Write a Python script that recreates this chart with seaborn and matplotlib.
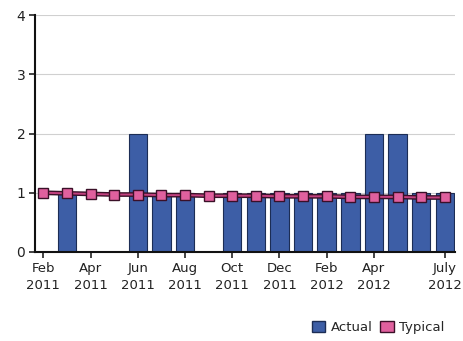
import numpy as np
import pandas as pd
import matplotlib
matplotlib.use("Agg")
import matplotlib.pyplot as plt
import seaborn as sns
from matplotlib.patches import Patch

months = ["Feb 2011", "Mar 2011", "Apr 2011", "May 2011", "Jun 2011", "Jul 2011",
          "Aug 2011", "Sep 2011", "Oct 2011", "Nov 2011", "Dec 2011", "Jan 2012",
          "Feb 2012", "Mar 2012", "Apr 2012", "May 2012", "Jun 2012", "July 2012"]
actual = [0, 1, 0, 0, 2, 1, 1, 0, 1, 1, 1, 1, 1, 1, 2, 2, 1, 1]
typical = [1.00, 0.99, 0.98, 0.97, 0.97, 0.96, 0.96, 0.95, 0.95, 0.95,
           0.94, 0.94, 0.94, 0.93, 0.93, 0.93, 0.92, 0.92]
tick_months = ["Feb 2011", "Apr 2011", "Jun 2011", "Aug 2011", "Oct 2011",
               "Dec 2011", "Feb 2012", "Apr 2012", "July 2012"]

df = pd.DataFrame({"month": months, "actual": actual, "typical": typical})
df["pos"] = np.arange(len(df))

sns.set_theme(style="white")
plt.rcParams["font.family"] = ["DejaVu Sans"]

bar_color = "#3d5ea6"
line_color = "#c2417f"
marker_color = "#e0609e"

fig = plt.figure(figsize=(4.63, 3.41), dpi=100)
ax = fig.add_axes([0.0756, 0.261, 0.908, 0.695])

sns.barplot(data=df, x="month", y="actual", order=months, color=bar_color,
            width=0.78, edgecolor="#1c2d55", linewidth=0.8, saturation=1, ax=ax)

# dark casing under the pink Typical line
sns.lineplot(data=df, x="pos", y="typical", color="#3a1028", linewidth=3.4,
             ax=ax, zorder=3)
sns.lineplot(data=df, x="pos", y="typical", color=line_color, linewidth=1.4,
             marker="s", markersize=6.5, markerfacecolor=marker_color,
             markeredgecolor="#3a1028", markeredgewidth=1.0, ax=ax, zorder=4)

ax.set_xlim(-0.35, len(months) - 0.55)
ax.set_ylim(0, 4)
ax.set_yticks([0, 1, 2, 3, 4])
ax.yaxis.grid(True, color="#d0d0d0", linewidth=0.8)
ax.set_axisbelow(True)

tick_pos = [months.index(m) for m in tick_months]
ax.set_xticks(tick_pos)
ax.set_xticklabels([m.replace(" ", "\n") for m in tick_months], linespacing=1.45)
ax.tick_params(axis="both", labelsize=9.5, colors="#222222", direction="out",
               length=4, width=1.2, bottom=True, left=True, pad=3)
ax.tick_params(axis="y", labelsize=10)
ax.set_xlabel("")
ax.set_ylabel("")

for side in ["top", "right"]:
    ax.spines[side].set_visible(False)
for side in ["left", "bottom"]:
    ax.spines[side].set_color("#111111")
    ax.spines[side].set_linewidth(1.5)

handles = [Patch(facecolor=bar_color, edgecolor="#1c2d55", label="Actual"),
           Patch(facecolor=marker_color, edgecolor="#3a1028", label="Typical")]
fig.legend(handles=handles, loc="center right", bbox_to_anchor=(0.985, 0.04),
           ncol=2, frameon=False, fontsize=9.5, handlelength=1.0,
           handleheight=1.0, handletextpad=0.4, columnspacing=0.6)

fig.savefig("out.png", dpi=100)
